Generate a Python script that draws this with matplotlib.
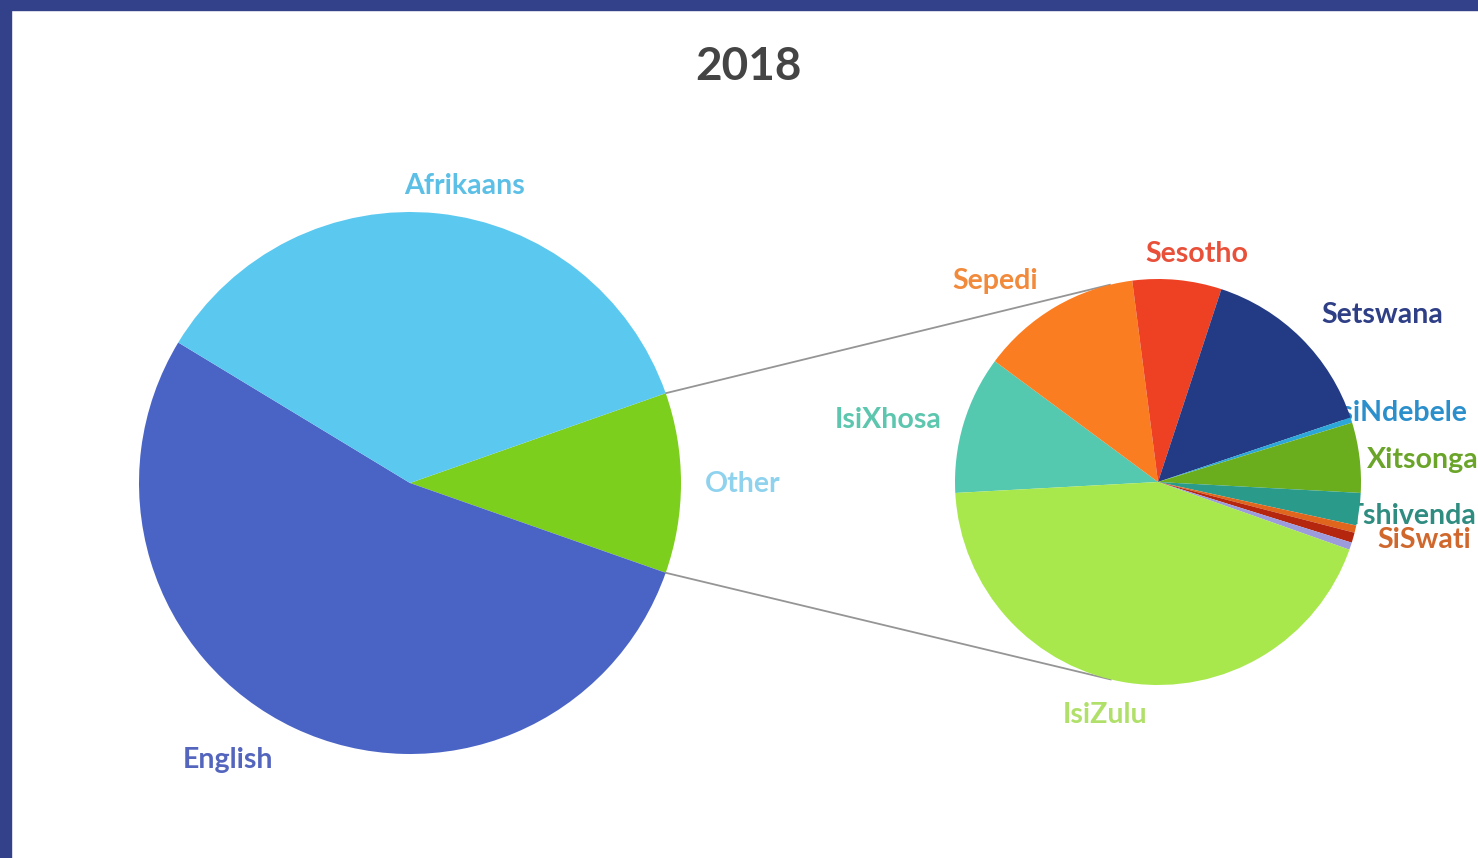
import numpy as np
import matplotlib.pyplot as plt
from matplotlib.patches import Rectangle
from matplotlib.lines import Line2D

# home language shares, 2018 (main pie, % of learners)
main_labels = ['Other', 'English', 'Afrikaans']
main_values = [10.75, 53.3, 35.95]
main_colors = ['#7ccf1c', '#4a64c6', '#5bc8f0']
main_text_colors = ['#8fd2ee', '#5465bd', '#5bbfe6']

# breakdown of "Other" (secondary pie, % of the Other group)
other_labels = ['IsiXhosa', 'Sepedi', 'Sesotho', 'Setswana', 'IsiNdebele',
                'Xitsonga', 'Tshivenda', 'SiSwati', '', '', 'IsiZulu']
other_values = [11.0, 12.83, 7.08, 14.8, 0.42, 5.58, 2.58, 0.58, 0.81, 0.58, 43.72]
other_colors = ['#55c9b0', '#fb7d22', '#ee4123', '#233a84', '#2da6d8',
                '#6aae1e', '#2a9b8a', '#e0661e', '#b5260f', '#9c9cdc', '#a8e84d']
other_text_colors = ['#5cc6ae', '#f28a3c', '#e8503a', '#2f3f86', '#2b8fcc',
                     '#6aa52a', '#2f8c80', '#d0682e', '', '', '#b0e06a']

W, H = 1478, 858

# label anchor positions in pixel space (x, y from top)
main_label_pos = [(743, 484), (228, 760), (465, 186)]
other_label_pos = [(888, 420), (995, 281), (1197, 254), (1382, 315), (1333, 413),
                   (1367, 460), (1347, 516), (1377, 540), None, None, (1105, 715)]
left_aligned = {'IsiNdebele', 'Xitsonga', 'Tshivenda', 'SiSwati'}
# these two start under the pie edge
behind_pie = {'IsiNdebele', 'Tshivenda'}

plt.rcParams['font.family'] = ['Lato', 'DejaVu Sans']

fig = plt.figure(figsize=(W / 100, H / 100), dpi=100)
ax = fig.add_axes([0, 0, 1, 1])

main_c, main_r = (410, H - 483), 271
small_c, small_r = (1158, H - 482), 203
start = 19.35

ax.pie(main_values, colors=main_colors, startangle=start, counterclock=False,
       center=main_c, radius=main_r, wedgeprops=dict(linewidth=0))
ax.pie(other_values, colors=other_colors, startangle=183.1, counterclock=False,
       center=small_c, radius=small_r, wedgeprops=dict(linewidth=0))

# connector lines: from the edges of the Other wedge, tangent to the second pie
other_span = 360 * main_values[0] / sum(main_values)
cx, cy = small_c
for ang, side in [(start, 1), (start - other_span, -1)]:
    a = np.radians(ang)
    px = main_c[0] + main_r * np.cos(a)
    py = main_c[1] + main_r * np.sin(a)
    d = np.hypot(px - cx, py - cy)
    phi = np.arctan2(py - cy, px - cx)
    t = phi - side * np.arccos(small_r / d)
    tx, ty = cx + small_r * np.cos(t), cy + small_r * np.sin(t)
    ax.add_line(Line2D([px, tx], [py, ty], color='#959595', lw=1.3, zorder=0.5))

for lab, (x, y), col in zip(main_labels, main_label_pos, main_text_colors):
    ax.text(x, H - y, lab, color=col, fontsize=20.5, fontweight='bold',
            ha='center', va='center')

for lab, pos, col in zip(other_labels, other_label_pos, other_text_colors):
    if not lab:
        continue
    x, y = pos
    ax.text(x, H - y, lab, color=col, fontsize=20.5, fontweight='bold',
            ha='left' if lab in left_aligned else 'center', va='center',
            zorder=0.8 if lab in behind_pie else 5)

ax.text(748, H - 67, '2018', color='#444444', fontsize=33, fontweight='bold',
        ha='center', va='center')

ax.set_xlim(0, W)
ax.set_ylim(0, H)
ax.set_aspect('auto')
ax.axis('off')

# dark blue frame on the top and left edges
fig.patches.append(Rectangle((0, 0), 11 / W, 1, transform=fig.transFigure,
                             color='#33418a', zorder=10))
fig.patches.append(Rectangle((0, 1 - 10 / H), 1, 10 / H, transform=fig.transFigure,
                             color='#33418a', zorder=10))

fig.savefig('out.png', dpi=100)
